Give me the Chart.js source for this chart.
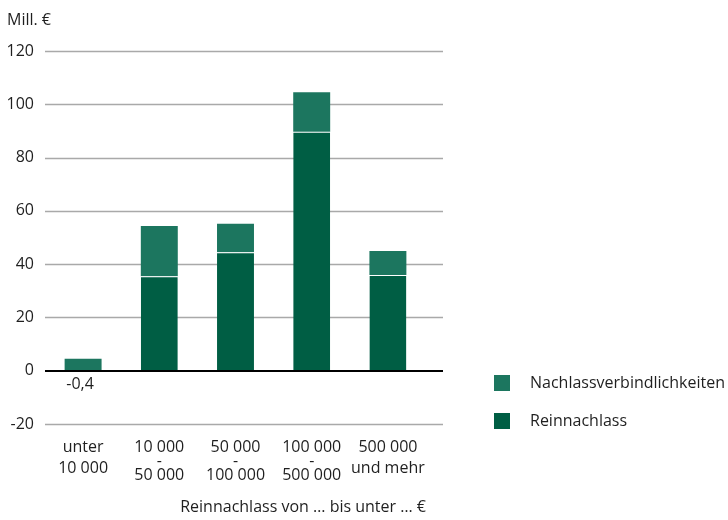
<!DOCTYPE html>
<html>
<head>
<meta charset="utf-8">
<script src="https://cdn.jsdelivr.net/npm/chart.js@4.4.1/dist/chart.umd.min.js"></script>
<style>
  html, body { margin: 0; padding: 0; background: #ffffff; }
  #wrap { width: 728px; height: 520px; position: relative; }
</style>
</head>
<body>
<div id="wrap"><canvas id="chart"></canvas></div>
<script>
// Size classes of net estate (multi-line labels; the blank lines space the dash)
const categories = [
  ["unter", "", "", "10 000"],
  ["10 000", "", "-", "", "50 000"],
  ["50 000", "", "-", "", "100 000"],
  ["100 000", "", "-", "", "500 000"],
  ["500 000", "", "", "und mehr"]
];
// Mill. €
const reinnachlass = [-0.4, 35.5, 44.5, 89.7, 35.9];
const nachlassverbindlichkeiten = [4.5, 18.8, 10.7, 14.8, 9.0];
const yTicks = [-20, 0, 20, 40, 60, 80, 100, 120];

const FONT = "'Open Sans', 'Noto Sans', sans-serif";
const SIZE = 16;
const TEXT = "#1f1f1f";
const DARK = "#005e44";
const LIGHT = "#1c765f";

// Horizontal grid lines, drawn behind the bars and run slightly past the plot
const gridLines = {
  id: "gridLines",
  beforeDatasetsDraw(chart) {
    const { ctx, chartArea, scales: { y } } = chart;
    ctx.save();
    y.ticks.forEach(t => {
      if (t.value === 0) return;
      const py = Math.round(y.getPixelForValue(t.value)) + 0.5;
      ctx.strokeStyle = "#a9a9a9";
      ctx.lineWidth = 1.5;
      ctx.beginPath();
      ctx.moveTo(chartArea.left, py);
      ctx.lineTo(chartArea.right + 17, py);
      ctx.stroke();
    });
    ctx.restore();
  },
  afterDatasetsDraw(chart) {
    const { ctx, chartArea, scales: { x, y } } = chart;
    ctx.save();
    // zero line
    const p0 = Math.round(y.getPixelForValue(0));
    ctx.strokeStyle = "#000000";
    ctx.lineWidth = 2;
    ctx.beginPath();
    ctx.moveTo(chartArea.left, p0);
    ctx.lineTo(chartArea.right + 17, p0);
    ctx.stroke();
    // value of the negative bar, written below the zero line
    ctx.fillStyle = TEXT;
    ctx.font = SIZE + "px " + FONT;
    ctx.textAlign = "center";
    ctx.textBaseline = "middle";
    reinnachlass.forEach((v, i) => {
      if (v < 0) {
        ctx.fillText(v.toLocaleString("de-DE"), x.getPixelForValue(i) - 3, p0 + 13);
      }
    });
    ctx.restore();
  },
  afterDraw(chart) {
    const { ctx, chartArea } = chart;
    ctx.save();
    ctx.fillStyle = TEXT;
    ctx.font = SIZE + "px " + FONT;
    ctx.textBaseline = "middle";
    ctx.textAlign = "left";
    ctx.fillText("Mill. €", 7, 20);
    // legend on the right
    const items = chart.data.datasets.slice().reverse();
    const lx = chartArea.right + 68;
    items.forEach((ds, i) => {
      const cy = 383 + i * 38;
      ctx.fillStyle = ds.backgroundColor;
      ctx.fillRect(lx, cy - 8, 16, 16);
      ctx.fillStyle = TEXT;
      ctx.fillText(ds.label, lx + 36, cy);
    });
    ctx.restore();
  }
};

new Chart(document.getElementById("chart"), {
  type: "bar",
  data: {
    labels: categories,
    datasets: [
      {
        label: "Reinnachlass",
        data: reinnachlass,
        backgroundColor: DARK,
        borderColor: "#ffffff",
        borderWidth: { top: 1, left: 0, right: 0, bottom: 0 },
        borderSkipped: false
      },
      {
        label: "Nachlassverbindlichkeiten",
        data: nachlassverbindlichkeiten,
        backgroundColor: LIGHT,
        borderWidth: 0
      }
    ]
  },
  options: {
    responsive: true,
    maintainAspectRatio: false,
    animation: false,
    layout: { padding: { left: 0, right: 302, top: 51, bottom: 0 } },
    datasets: { bar: { categoryPercentage: 1, barPercentage: 0.485 } },
    plugins: { legend: { display: false }, tooltip: { enabled: false } },
    scales: {
      x: {
        stacked: true,
        afterFit(scale) { scale.height = 96; },
        grid: { display: false, drawTicks: false },
        border: { display: false },
        ticks: {
          color: TEXT,
          padding: 20,
          maxRotation: 0,
          autoSkip: false,
          font: { family: FONT, size: SIZE, lineHeight: "7px" }
        },
        title: {
          display: true,
          text: "Reinnachlass von … bis unter … €",
          align: "end",
          color: TEXT,
          font: { family: FONT, size: SIZE },
          padding: { top: 0, bottom: 3 }
        }
      },
      y: {
        stacked: true,
        min: -20,
        max: 120,
        afterBuildTicks(scale) { scale.ticks = yTicks.map(v => ({ value: v })); },
        afterFit(scale) { scale.width = 45; },
        grid: { display: false, drawTicks: false },
        border: { display: false },
        ticks: {
          color: TEXT,
          padding: 11,
          font: { family: FONT, size: SIZE }
        }
      }
    }
  },
  plugins: [gridLines]
});
</script>
</body>
</html>
